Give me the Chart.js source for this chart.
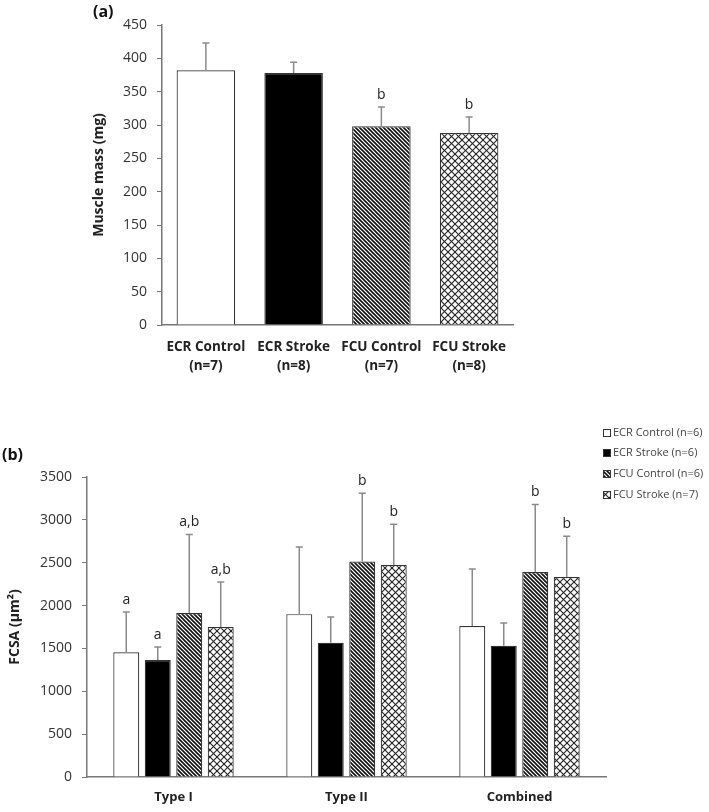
<!DOCTYPE html>
<html>
<head>
<meta charset="utf-8">
<script src="https://cdn.jsdelivr.net/npm/chart.js@4.4.1/dist/chart.umd.min.js"></script>
<style>
  body { margin: 0; background: #fff; width: 709px; height: 812px; position: relative; overflow: hidden; font-family: "Open Sans", sans-serif; }
  #chartA { position: absolute; left: 0; top: 0; }
  #chartB { position: absolute; left: 0; top: 400px; }
  .tag { position: absolute; font-weight: bold; font-size: 16px; color: #111; }
</style>
</head>
<body>
<canvas id="chartA" width="709" height="400"></canvas>
<canvas id="chartB" width="709" height="412"></canvas>
<div class="tag" style="left:93px;top:0px">(a)</div>
<div class="tag" style="left:2px;top:443px">(b)</div>
<script>
// (a) muscle mass
const massLabels = [['ECR Control', '(n=7)'], ['ECR Stroke', '(n=8)'], ['FCU Control', '(n=7)'], ['FCU Stroke', '(n=8)']];
const massMean = [382, 378, 298, 288];
const massSd = [41, 16, 29, 24];
const massSig = ['', '', 'b', 'b'];

// (b) fiber cross-sectional area
const fiberTypes = ['Type I', 'Type II', 'Combined'];
const groupNames = ['ECR Control (n=6)', 'ECR Stroke (n=6)', 'FCU Control (n=6)', 'FCU Stroke (n=7)'];
const ecrControlMean = [1455, 1900, 1762];
const ecrControlSd = [470, 783, 665];
const ecrControlSig = ['a', '', ''];
const ecrStrokeMean = [1365, 1565, 1530];
const ecrStrokeSd = [152, 302, 267];
const ecrStrokeSig = ['a', '', ''];
const fcuControlMean = [1913, 2515, 2392];
const fcuControlSd = [917, 795, 788];
const fcuControlSig = ['a,b', 'b', 'b'];
const fcuStrokeMean = [1750, 2473, 2333];
const fcuStrokeSd = [525, 477, 477];
const fcuStrokeSig = ['a,b', 'b', 'b'];

Chart.defaults.font.family = '"Open Sans", sans-serif';
Chart.defaults.color = '#222';

// fill patterns
function hatchPattern() {
    const c = document.createElement('canvas');
    c.width = 4; c.height = 4;
    const g = c.getContext('2d');
    g.fillStyle = '#fff';
    g.fillRect(0, 0, 4, 4);
    g.strokeStyle = '#111';
    g.lineWidth = 1.6;
    for (let k = -2; k <= 2; k++) {
        g.beginPath();
        g.moveTo(-1, -1 + k * 4);
        g.lineTo(5, 5 + k * 4);
        g.stroke();
    }
    return g.createPattern(c, 'repeat');
}

function crossPattern() {
    const s = 7;
    const c = document.createElement('canvas');
    c.width = s; c.height = s;
    const g = c.getContext('2d');
    g.fillStyle = '#fff';
    g.fillRect(0, 0, s, s);
    g.strokeStyle = '#222';
    g.lineWidth = 1.1;
    for (let k = -2; k <= 2; k++) {
        g.beginPath();
        g.moveTo(-1, -1 + k * s);
        g.lineTo(s + 1, s + 1 + k * s);
        g.stroke();
        g.beginPath();
        g.moveTo(-1, s + 1 + k * s);
        g.lineTo(s + 1, -1 + k * s);
        g.stroke();
    }
    return g.createPattern(c, 'repeat');
}

const fills = ['#ffffff', '#000000', hatchPattern(), crossPattern()];

// error bars (upward only) and significance letters
const errorBars = {
    id: 'errorBars',
    afterDatasetsDraw(chart) {
        const ctx = chart.ctx;
        const y = chart.scales.y;
        chart.data.datasets.forEach((ds, i) => {
            const meta = chart.getDatasetMeta(i);
            meta.data.forEach((bar, j) => {
                const top = y.getPixelForValue(ds.data[j] + ds.sd[j]);
                ctx.save();
                ctx.strokeStyle = '#8a8a8a';
                ctx.lineWidth = 1.5;
                ctx.beginPath();
                ctx.moveTo(bar.x, bar.y);
                ctx.lineTo(bar.x, top);
                ctx.moveTo(bar.x - 3.5, top);
                ctx.lineTo(bar.x + 3.5, top);
                ctx.stroke();
                if (ds.sig[j]) {
                    ctx.fillStyle = '#222';
                    ctx.font = '14px "Open Sans", sans-serif';
                    ctx.textAlign = 'center';
                    ctx.textBaseline = 'alphabetic';
                    ctx.fillText(ds.sig[j], bar.x, top - 8);
                }
                ctx.restore();
            });
        });
    }
};

// legend drawn at top right, over the plot corner
const cornerLegend = {
    id: 'cornerLegend',
    afterDraw(chart) {
        const ctx = chart.ctx;
        const rows = [33, 53, 74, 95];
        chart.data.datasets.forEach((ds, i) => {
            ctx.save();
            ctx.fillStyle = ds.backgroundColor;
            ctx.fillRect(603, rows[i] - 4, 8, 8);
            ctx.strokeStyle = '#333';
            ctx.lineWidth = 1;
            ctx.strokeRect(603.5, rows[i] - 3.5, 7, 7);
            ctx.fillStyle = '#444';
            ctx.font = '11px "Open Sans", sans-serif';
            ctx.textBaseline = 'middle';
            ctx.fillText(ds.label, 613, rows[i]);
            ctx.restore();
        });
    }
};

// 패널 (a)
new Chart(document.getElementById('chartA'), {
    type: 'bar',
    data: {
        labels: massLabels,
        datasets: [{
            label: 'Muscle mass',
            data: massMean,
            sd: massSd,
            sig: massSig,
            backgroundColor: fills,
            borderColor: '#333',
            borderWidth: 1.2,
            barPercentage: 0.667,
            categoryPercentage: 1
        }]
    },
    options: {
        responsive: false,
        animation: false,
        layout: { padding: { left: 87, top: 25, right: 196, bottom: 0 } },
        plugins: { legend: { display: false }, tooltip: { enabled: false } },
        scales: {
            x: {
                grid: { display: false, drawTicks: false },
                border: { display: true, color: '#777', width: 1.5 },
                ticks: {
                    padding: 13, color: '#222', autoSkip: false, maxRotation: 0, minRotation: 0,
                    font: { size: 13.5, weight: 'bold', lineHeight: 1.4 }
                },
                afterFit(s) { s.height = 75; }
            },
            y: {
                min: 0,
                max: 450,
                ticks: { stepSize: 50, padding: 10, color: '#333', font: { size: 14 }, callback: v => String(v) },
                grid: { drawOnChartArea: false, drawTicks: true, tickLength: 5, color: '#777' },
                border: { display: true, color: '#777', width: 1.5 },
                title: { display: true, text: 'Muscle mass (mg)', color: '#222', font: { size: 14, weight: 'bold' } },
                afterFit(s) { s.width = 75; }
            }
        }
    },
    plugins: [errorBars]
});

// 패널 (b)
const meanSets = [ecrControlMean, ecrStrokeMean, fcuControlMean, fcuStrokeMean];
const sdSets = [ecrControlSd, ecrStrokeSd, fcuControlSd, fcuStrokeSd];
const sigSets = [ecrControlSig, ecrStrokeSig, fcuControlSig, fcuStrokeSig];

new Chart(document.getElementById('chartB'), {
    type: 'bar',
    data: {
        labels: fiberTypes,
        datasets: groupNames.map((name, i) => ({
            label: name,
            data: meanSets[i],
            sd: sdSets[i],
            sig: sigSets[i],
            backgroundColor: fills[i],
            borderColor: '#333',
            borderWidth: 1.2,
            barPercentage: 0.825,
            categoryPercentage: 0.728
        }))
    },
    options: {
        responsive: false,
        animation: false,
        layout: { padding: { left: 3, top: 77, right: 103, bottom: 0 } },
        plugins: { legend: { display: false }, tooltip: { enabled: false } },
        scales: {
            x: {
                grid: { display: false, drawTicks: false },
                border: { display: true, color: '#777', width: 1.5 },
                ticks: { padding: 12, color: '#222', autoSkip: false, maxRotation: 0, font: { size: 13, weight: 'bold' } },
                afterFit(s) { s.height = 35; }
            },
            y: {
                min: 0,
                max: 3500,
                ticks: { stepSize: 500, padding: 10, color: '#333', font: { size: 14 }, callback: v => String(v) },
                grid: { drawOnChartArea: false, drawTicks: true, tickLength: 5, color: '#777' },
                border: { display: true, color: '#777', width: 1.5 },
                title: { display: true, text: 'FCSA (µm²)', color: '#222', font: { size: 14, weight: 'bold' } },
                afterFit(s) { s.width = 84; }
            }
        }
    },
    plugins: [errorBars, cornerLegend]
});
</script>
</body>
</html>
